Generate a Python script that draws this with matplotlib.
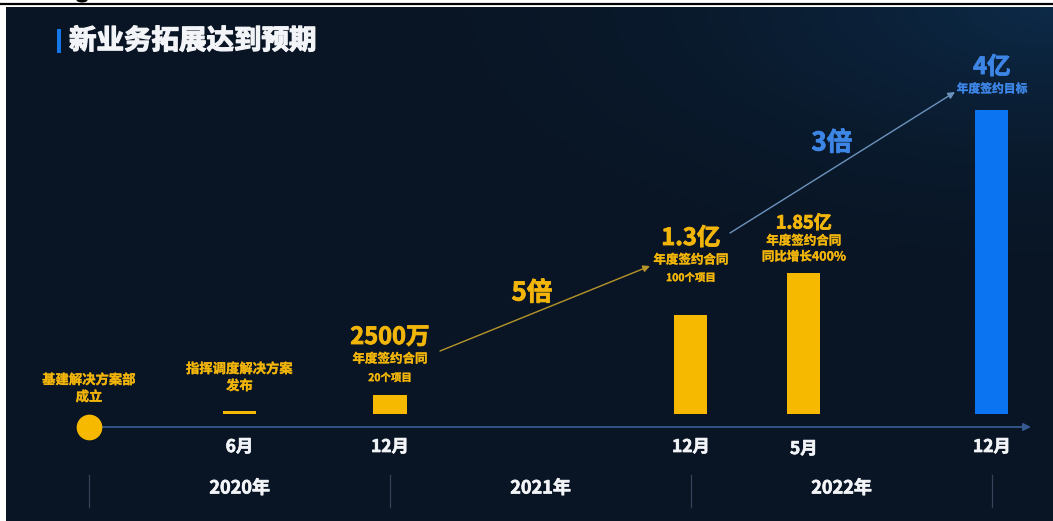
import numpy as np
import matplotlib
matplotlib.use("Agg")
import matplotlib.pyplot as plt
import matplotlib.patheffects as pe
from matplotlib.lines import Line2D
from matplotlib.patches import Rectangle, Ellipse

plt.rcParams['font.family'] = ['Noto Sans CJK SC', 'DejaVu Sans']

# ---- data -------------------------------------------------------------
# timeline position: months since Jan 2020
months = [6, 12, 24, 28.5, 36]
# annual contract value, in 亿 (100 million CNY)
values = [0.04, 0.25, 1.3, 1.85, 4.0]
month_labels = ['6月', '12月', '12月', '5月', '12月']
year_labels = ['2020年', '2021年', '2022年']
year_starts = [0, 12, 24, 36]
is_target = [False, False, False, False, True]

GOLD = '#f6b900'
GOLD_TXT = '#f2b50a'
BLUE = '#0b74f0'
BLUE_TXT = '#3d86e6'
WHITE = '#f2f4f7'
AXIS = '#36598f'


def thick(color, lw=0.6):
    """slightly heavier strokes for the bold lettering"""
    return [pe.withStroke(linewidth=lw, foreground=color)]


W, H = 1053, 521
fig = plt.figure(figsize=(W / 100, H / 100), dpi=100, facecolor='white')

# ---- dark panel with a soft glow in the upper right --------------------
px0, py0 = 6, 7
bg = fig.add_axes([px0 / W, 0, 1 - px0 / W, 1 - py0 / H])
bg.set_axis_off()
gh, gw = 260, 520
yy, xx = np.mgrid[0:gh, 0:gw]
base = np.array([9, 21, 36], float) / 255
glow = np.array([13, 42, 72], float) / 255
d = np.sqrt(((xx - gw) / gw) ** 2 * 1.6 + (yy / gh) ** 2 * 2.2)
wgt = np.clip(1 - d / 0.9, 0, 1) ** 2
img = base[None, None, :] * (1 - wgt[..., None]) + glow[None, None, :] * wgt[..., None]
bg.imshow(img, aspect='auto', extent=[0, 1, 0, 1], origin='upper')
bg.set_xlim(0, 1)
bg.set_ylim(0, 1)

# thin rule along the top edge and a small dark mark above it
fig.add_artist(Line2D([0, 1], [1 - 4 / H] * 2, color='black', lw=1.6))
fig.add_artist(Ellipse((82 / W, 1.0), 11 / W, 5 / H, color='black', lw=0))

# ---- main axes: x in months, y in 亿 ------------------------------------
PX_PER_MONTH = 25.08
PX_PER_YI = 76.0
X0_PX, BASE_PX = 89, 414
ax = fig.add_axes([0, 0, 1, 1])
ax.set_xlim(-X0_PX / PX_PER_MONTH, (W - X0_PX) / PX_PER_MONTH)
ax.set_ylim(-(H - BASE_PX) / PX_PER_YI, BASE_PX / PX_PER_YI)
ax.set_axis_off()
ax.patch.set_alpha(0)


def py(p):
    """vertical pixel row -> value units"""
    return (BASE_PX - p) / PX_PER_YI


def px(p):
    return (p - X0_PX) / PX_PER_MONTH


# title
ax.add_patch(Rectangle((px(57), py(53)), 4 / PX_PER_MONTH, 24 / PX_PER_YI,
                       color='#1677e8', lw=0, zorder=5))
ax.text(px(69), py(41), '新业务拓展达到预期', color=WHITE, fontsize=19.8,
        fontweight='bold', ha='left', va='center', zorder=5,
        path_effects=thick(WHITE, 0.9))

# timeline axis
axis_y = py(427)
ax.annotate('', xy=(px(1031), axis_y), xytext=(0, axis_y),
            arrowprops=dict(arrowstyle='-|>', color=AXIS, lw=1.3,
                            mutation_scale=11, shrinkA=0, shrinkB=0), zorder=2)
ax.plot([0], [axis_y], marker='o', ms=17.5, color=GOLD, mec=GOLD, zorder=4)

# bars
colors = [BLUE if t else GOLD for t in is_target]
ax.bar(months, values, width=1.32, color=colors, zorder=3)

# month labels
for m, lab in zip(months, month_labels):
    ax.text(m, py(449 if lab == '5月' else 447), lab, color=WHITE, fontsize=12.5,
            fontweight='bold', ha='center', va='center',
            path_effects=thick(WHITE, 0.5))

# year bands
for s in year_starts:
    ax.plot([s, s], [py(475), py(507)], color='#34435a', lw=0.9, zorder=2)
for i, lab in enumerate(year_labels):
    xc = (year_starts[i] + year_starts[i + 1]) / 2
    ax.text(xc, py(488), lab, color=WHITE, fontsize=13,
            fontweight='bold', ha='center', va='center',
            path_effects=thick(WHITE, 0.5))


# milestone notes
def note(x, p, s, size, color=GOLD_TXT):
    lw = 0.6 if size >= 12 else 0.2
    ax.text(x, py(p), s, color=color, fontsize=size, fontweight='bold',
            ha='center', va='center', zorder=5,
            path_effects=thick(color, lw))


note(0, 380, '基建解决方案部', 9.6)
note(0, 397, '成立', 9.6)
note(months[0], 369, '指挥调度解决方案', 9.6)
note(months[0], 386, '发布', 9.6)

note(months[1], 337, '2500万', 17)
note(months[1], 359, '年度签约合同', 9)
note(months[1], 378, '20个项目', 7.5)

note(months[2], 238, '1.3亿', 17)
note(months[2], 260, '年度签约合同', 9)
note(months[2], 278, '100个项目', 7.5)

note(months[3], 223, '1.85亿', 13)
note(months[3], 241, '年度签约合同', 9)
note(months[3], 257, '同比增长400%', 9)

note(months[4], 67, '4亿', 17, BLUE_TXT)
note(months[4], 89, '年度签约目标', 8.5, BLUE_TXT)

# growth arrows
ax.annotate('', xy=(px(650), py(266)), xytext=(px(440), py(351)),
            arrowprops=dict(arrowstyle='-|>', color='#b8952a', lw=1.0,
                            mutation_scale=10, shrinkA=0, shrinkB=0))
note(px(532), 293, '5倍', 18.5)

ax.annotate('', xy=(px(955), py(92)), xytext=(px(730), py(233)),
            arrowprops=dict(arrowstyle='-|>', color='#6c93bd', lw=1.0,
                            mutation_scale=10, shrinkA=0, shrinkB=0))
note(px(832), 143, '3倍', 18.5, BLUE_TXT)

fig.savefig('out.png', dpi=100, facecolor=fig.get_facecolor())
